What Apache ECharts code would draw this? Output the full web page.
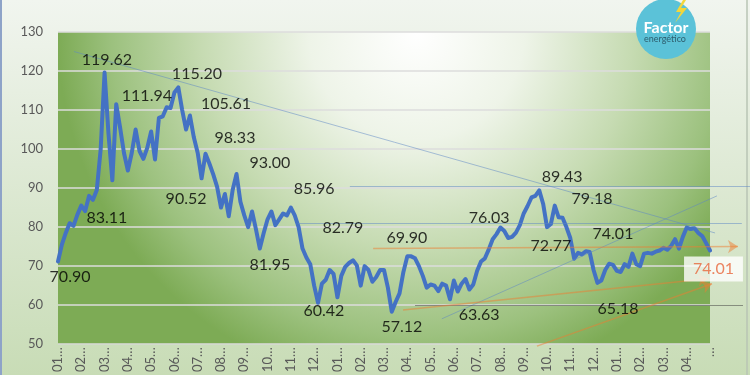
<!DOCTYPE html>
<html><head><meta charset="utf-8">
<script src="https://cdn.jsdelivr.net/npm/echarts@6/dist/echarts.min.js"></script>
<style>html,body{margin:0;padding:0;background:#fff}#c{width:750px;height:375px}</style>
</head><body><div id="c"></div>
<script>
// Tick labels shown along the category axis (every 6th point)
const tickLabels = ['01','02','03','04','05','06','07','08','09','10','11','12',
                    '01','02','03','04','05','06','07','08','09','10','11','12',
                    '01','02','03','04'];
const labelStep = 6;

// Price series
const prices = [
  71.2,75.5,78.5,81.0,80.3,83.2,85.5,84.1,88.0,87.0,
  89.5,100.0,119.6,104.0,92.0,111.5,105.5,99.0,94.5,99.0,
  105.0,99.5,97.5,100.3,104.5,97.3,108.0,108.4,110.7,110.5,
  114.5,115.8,110.0,105.0,108.6,103.0,99.0,92.5,98.8,96.3,
  93.5,90.3,85.0,88.5,82.8,89.5,93.6,86.5,83.0,80.0,
  84.0,79.5,74.5,78.5,82.0,84.0,80.5,82.0,83.5,83.0,
  85.0,83.0,80.0,74.5,72.2,70.5,65.0,60.6,65.5,66.5,
  69.0,68.0,62.0,67.5,69.8,70.8,71.5,70.2,65.0,70.0,
  69.0,66.0,67.2,69.0,69.0,64.5,58.3,60.8,63.0,68.5,
  72.5,72.5,72.0,70.0,67.5,64.5,65.3,65.0,63.6,65.5,
  65.0,61.5,66.3,63.5,65.5,66.7,64.0,65.3,68.8,71.2,
  72.0,74.3,76.9,78.2,79.9,79.0,77.2,77.5,78.6,80.5,
  83.5,85.4,87.6,88.0,89.4,86.0,80.0,80.8,85.5,82.5,
  82.4,80.0,77.2,71.9,73.4,73.0,73.8,73.6,69.0,65.7,
  66.3,69.0,70.6,70.3,68.8,68.5,70.5,69.8,73.2,70.5,
  70.0,73.2,73.4,73.2,73.7,74.0,74.7,74.2,75.2,76.9,
  74.5,77.5,79.9,79.5,79.7,78.5,77.7,75.9,74.0
];
const categories = prices.map((_, i) => String(i));

// Text annotations: [x (point index), y (price), text]
const annotations = [
  [12.6,122.75,'119.62'],[22.9,113.75,'111.94'],[35.8,119.25,'115.20'],
  [43.3,111.5,'105.61'],[45.6,103.0,'98.33'],[54.6,96.5,'93.00'],
  [66.0,89.75,'85.96'],[73.4,79.75,'82.79'],[54.6,70.25,'81.95'],
  [33.0,87.25,'90.52'],[12.6,82.5,'83.11'],[3.1,67.25,'70.90'],
  [68.5,58.5,'60.42'],[89.9,77.25,'69.90'],[88.6,54.5,'57.12'],
  [108.5,57.5,'63.63'],[111.1,82.5,'76.03'],[129.9,93.0,'89.43'],
  [137.6,87.25,'79.18'],[143.0,78.25,'74.01'],[127.0,75.25,'72.77'],
  [144.3,59.0,'65.18']
];
const lastLabel = [168.9, 69.25, '74.01'];

// Trend lines in data space: [x1, y1, x2, y2]
const blueLines = [[4.1,125.0,169.3,78.5],[75.2,90.5,178.3,90.5],[61.8,81.0,176.2,81.0],[98.9,56.5,169.8,88.0]];
const blackLines = [[92.0,60.0,176.5,60.0]];
const orangeArrows = [[81.2,74.5,175.2,75.0],[88.9,58.75,167.5,66.75],[123.4,49.5,168.5,65.5]];

const FONT = 'Lato, "Liberation Sans", sans-serif';
const chart = echarts.init(document.getElementById('c'), null, {renderer: 'canvas'});
const toLines = (arr, color, width) => arr.map(l => ({coords: [[l[0], l[1]], [l[2], l[3]]], lineStyle: {color, width}}));

const option = {
  animation: false,
  backgroundColor: new echarts.graphic.LinearGradient(0, 0, 0, 1, [
    {offset: 0, color: '#f1f5ef'}, {offset: 1, color: '#c8dcb6'}]),
  grid: {
    left: 58, right: 40, top: 32, bottom: 23, show: true, borderWidth: 0,
    backgroundColor: new echarts.graphic.RadialGradient(0.55, 0, 1.15, [
      {offset: 0, color: '#ffffff'}, {offset: 0.3, color: '#eef4e8'},
      {offset: 0.6, color: '#c6dbb2'}, {offset: 0.85, color: '#9cc17e'},
      {offset: 1, color: '#7dab55'}])
  },
  xAxis: [{
    type: 'category', data: categories, boundaryGap: false,
    axisLine: {show: false}, axisTick: {show: false}, splitLine: {show: false},
    axisLabel: {interval: labelStep - 1, rotate: 90, margin: 3, color: '#595959', fontSize: 13, fontFamily: FONT,
      formatter: v => (tickLabels[Math.round(+v / labelStep)] || '') + '…'}
  }, {type: 'value', min: 0, max: prices.length - 1, show: false}],
  yAxis: {
    type: 'value', min: 50, max: 130, interval: 10,
    axisLine: {show: false}, axisTick: {show: false},
    axisLabel: {color: '#595959', fontSize: 13, fontFamily: FONT, margin: 15},
    splitLine: {lineStyle: {color: '#dcdcdc', width: 1.5}}
  },
  series: [
    {type: 'line', data: prices, xAxisIndex: 0, yAxisIndex: 0, symbol: 'none', silent: true, z: 5,
      lineStyle: {color: '#4472c4', width: 4, join: 'round', cap: 'round'}},
    {type: 'lines', coordinateSystem: 'cartesian2d', xAxisIndex: 1, yAxisIndex: 0, clip: false, silent: true, z: 6,
      symbol: ['none', 'none'],
      data: toLines(blueLines, '#5b86c6', 1).concat(toLines(blackLines, '#3c3c3c', 1))},
    {type: 'lines', coordinateSystem: 'cartesian2d', xAxisIndex: 1, yAxisIndex: 0, clip: false, silent: true, z: 7,
      symbol: ['none', 'arrow'], symbolSize: 10,
      data: toLines(orangeArrows, '#ed7d31', 1.5)},
    {type: 'scatter', xAxisIndex: 1, yAxisIndex: 0, clip: false, silent: true, z: 10,
      symbolSize: 1, itemStyle: {color: 'rgba(0,0,0,0)'},
      label: {show: true, position: 'inside', color: '#000000', fontSize: 16, fontFamily: FONT},
      data: annotations.map(a => ({value: [a[0], a[1]], label: {formatter: a[2]}})).concat([{
        value: [lastLabel[0], lastLabel[1]],
        label: {formatter: lastLabel[2], color: '#e8663b', backgroundColor: '#ffffff', padding: [5, 9, 4, 9]}
      }])}
  ],
  graphic: [
    {type: 'line', shape: {x1: 1, y1: 0, x2: 1, y2: 375}, style: {stroke: '#8ea3c8', lineWidth: 2}, silent: true},
    {type: 'line', shape: {x1: 747, y1: 0, x2: 747, y2: 375}, style: {stroke: '#b8c4b4', lineWidth: 1.5}, silent: true},
    {type: 'circle', shape: {cx: 666, cy: 29, r: 30}, style: {fill: '#5bc2d8'}, silent: true, z: 100},
    {type: 'polygon', shape: {points: [[683, 0], [676, 12], [681, 12], [675, 23], [687, 8], [681, 8], [686, 0]]},
      style: {fill: '#f3d63a'}, silent: true, z: 101},
    {type: 'text', x: 666, y: 28, style: {text: 'Factor', fill: '#ffffff', font: 'bold 16px ' + FONT, align: 'center', verticalAlign: 'middle'}, silent: true, z: 101},
    {type: 'text', x: 665, y: 39, style: {text: 'energético', fill: '#2e5e6e', font: '9px ' + FONT, align: 'center', verticalAlign: 'middle'}, silent: true, z: 101}
  ]
};
chart.setOption(option);
</script>
</body></html>
